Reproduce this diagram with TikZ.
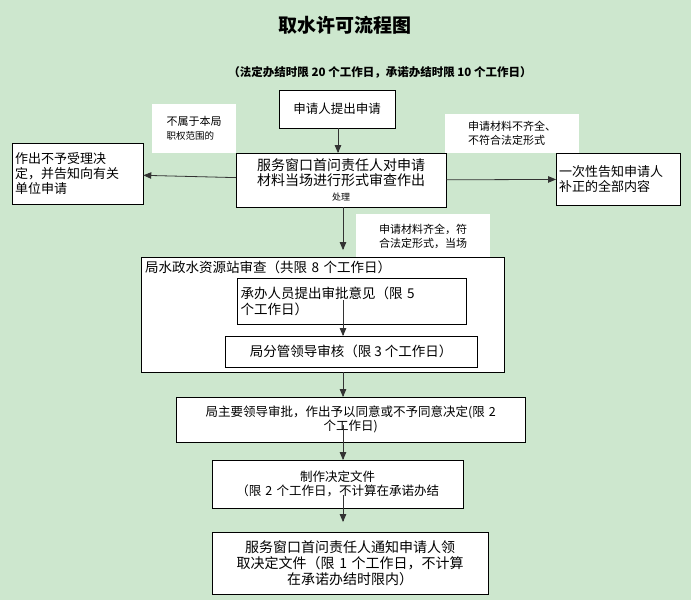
\documentclass[tikz,border=0pt]{standalone}
\usepackage{fontspec}
\newfontfamily\cjk{Noto Sans CJK SC}
\XeTeXlinebreaklocale "zh"
\XeTeXlinebreakskip=0pt
\usetikzlibrary{positioning,arrows}
\definecolor{bgreen}{HTML}{CDE7CE}
\definecolor{darr}{HTML}{333333}

\begin{document}
\begin{tikzpicture}[x=1pt,y=-1pt,font=\cjk\fontsize{12.5}{14}\selectfont,
    every node/.style={inner sep=2pt},
    stage/.style={draw,fill=white,align=center,anchor=north west},
    note/.style={fill=white,align=left,anchor=north west,font=\cjk\fontsize{11}{14}\selectfont},
    flow/.style={-triangle 45,darr,thick}]
    \fill[bgreen] (0,0) rectangle (691,600);
    \useasboundingbox (0,0) rectangle (691,600);
    \node[font=\cjk\bfseries\fontsize{19}{22}\selectfont] (title) at (345,25) {取水许可流程图};
    \node[font=\cjk\bfseries\fontsize{11.5}{13}\selectfont] (sub) at (380,72) {（法定办结时限 20 个工作日，承诺办结时限 10 个工作日）};
    \node[stage,minimum width=116,minimum height=38] (apply) at (279,90) {申请人提出申请};
    \node[note,minimum width=84,minimum height=49] (notours) at (152,104) {不属于本局\\{\fontsize{9.5}{12}\selectfont 职权范围的}};
    \node[note,minimum width=134,minimum height=39] (lack) at (445,114) {申请材料不齐全、\\不符合法定形式};
    \node[note,minimum width=134,minimum height=44] (full) at (356,214) {申请材料齐全，符\\合法定形式，当场};
    \node[stage,minimum width=210,minimum height=54,text width=204,font=\cjk\fontsize{14}{15}\selectfont] (check) at (236,153) {服务窗口首问责任人对申请\\材料当场进行形式审查作出\\{\fontsize{9}{10}\selectfont 处理}};
    \node[stage,minimum width=131,minimum height=61,text width=125,align=left,font=\cjk\fontsize{13}{15}\selectfont] (refuse) at (12,143) {作出不予受理决\\定，并告知向有关\\单位申请};
    \node[stage,minimum width=124,minimum height=52,text width=118,align=left,font=\cjk\fontsize{13}{15}\selectfont] (inform) at (556,153) {一次性告知申请人\\补正的全部内容};
    \node[stage,minimum width=363,minimum height=115,align=left,text width=355,text depth=96,font=\cjk\fontsize{13.5}{15}\selectfont] (station) at (141,257) {局水政水资源站审查（共限 8 个工作日）};
    \node[stage,minimum width=229,minimum height=46,text width=222,align=left,font=\cjk\fontsize{13.5}{16}\selectfont] (opinion) at (237,278) {承办人员提出审批意见（限 5\\个工作日）};
    \node[stage,minimum width=252,minimum height=31,font=\cjk\fontsize{13.5}{15}\selectfont] (deputy) at (225,336) {局分管领导审核（限 3 个工作日）};
    \node[stage,minimum width=349,minimum height=45,text width=342] (chief) at (176,397) {局主要领导审批，作出予以同意或不予同意决定(限 2\\个工作日)};
    \node[stage,minimum width=251,minimum height=48,text width=245] (doc) at (212,460) {制作决定文件\\（限 2 个工作日，不计算在承诺办结};
    \node[stage,minimum width=276,minimum height=62,text width=262,font=\cjk\fontsize{14}{16}\selectfont] (notify) at (212,532) {服务窗口首问责任人通知申请人领\\取决定文件（限 1 个工作日，不计算\\在承诺办结时限内）};
    \coordinate (c0) at (338,128);
    \coordinate (c1) at (343,207);
    \coordinate (c2) at (343,250);
    \draw[flow] (c0) -- (c0 |- check.north);
    \draw[flow] (check) -- (refuse);
    \draw[flow] (check) -- (inform);
    \draw[flow] (c1) -- (c2);
    \draw[flow] (343,300) -- (deputy.north -| 343,0);
    \draw[flow] (station.south -| 343,0) -- (chief.north -| 343,0);
    \draw[flow] (343,425) -- (doc.north -| 343,0);
    \draw[flow] (343,495) -- (343,522);
\end{tikzpicture}
\end{document}
